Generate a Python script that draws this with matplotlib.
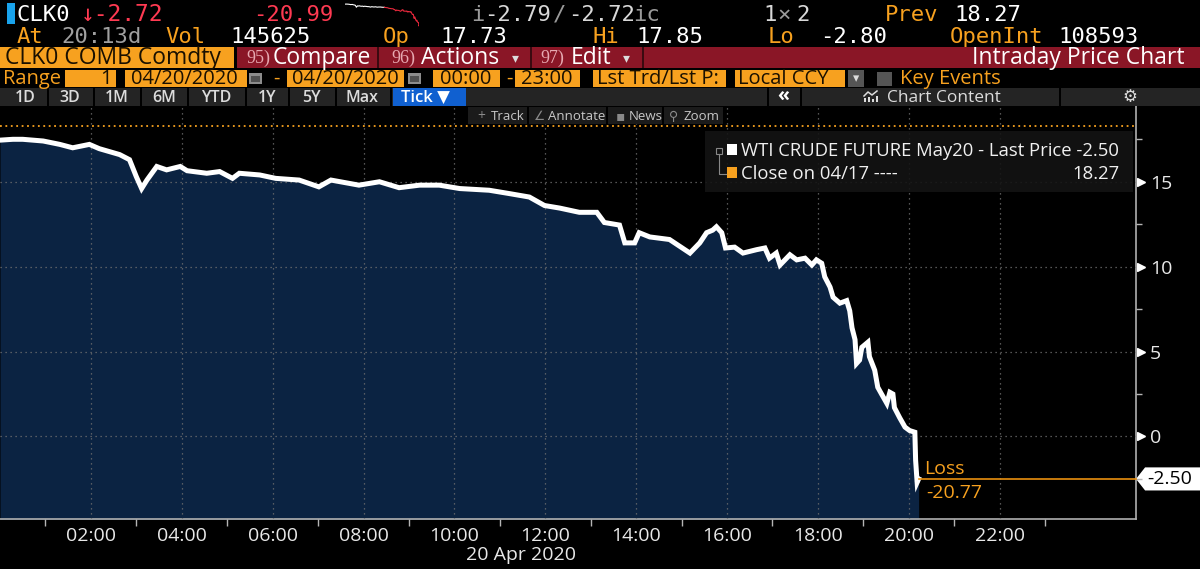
import matplotlib
matplotlib.use('Agg')
import matplotlib.pyplot as plt
from matplotlib.patches import Rectangle, Polygon
from matplotlib.lines import Line2D
import numpy as np

# tick data, 20 Apr 2020 (WTI May20)
times = ["00:00", "00:17", "00:30", "00:57", "01:19", "01:36", "01:58", "02:11", "02:38", "02:51",
         "03:00", "03:07", "03:14", "03:27", "03:40", "03:58", "04:07", "04:33", "04:50", "05:07",
         "05:16", "05:43", "06:04", "06:35", "07:01", "07:17", "07:54", "08:21", "08:47", "09:14",
         "09:40", "10:07", "10:46", "11:13", "11:39", "11:59", "12:19", "12:45", "13:08", "13:18",
         "13:38", "13:45", "13:58", "14:04", "14:18", "14:44", "15:11", "15:24", "15:33", "15:41",
         "15:46", "15:53", "15:58", "16:10", "16:21", "16:39", "16:50", "16:56", "17:05", "17:10",
         "17:23", "17:32", "17:43", "17:52", "17:58", "18:05", "18:09", "18:16", "18:20", "18:29",
         "18:38", "18:42", "18:45", "18:49", "18:51", "18:55", "18:58", "19:06", "19:08", "19:15",
         "19:19", "19:24", "19:31", "19:35", "19:39", "19:41", "19:48", "19:55", "20:01", "20:08",
         "20:09", "20:11", "20:13"]
price = [17.45, 17.5, 17.5, 17.4, 17.2, 17.0, 17.2, 16.95, 16.6, 16.3,
         15.3, 14.6, 15.1, 15.9, 15.7, 15.9, 15.65, 15.5, 15.6, 15.2,
         15.5, 15.4, 15.2, 15.1, 14.7, 15.1, 14.8, 15.0, 14.65, 14.8,
         14.8, 14.6, 14.5, 14.3, 14.1, 13.6, 13.45, 13.2, 13.2, 12.6,
         12.45, 11.4, 11.4, 12.0, 11.75, 11.6, 10.8, 11.4, 12.0, 12.15,
         12.35, 12.0, 11.1, 11.15, 10.8, 11.0, 11.1, 10.5, 10.8, 10.1,
         10.7, 10.4, 10.5, 10.1, 10.4, 10.2, 9.4, 8.8, 8.2, 7.85,
         8.0, 7.4, 6.4, 5.7, 4.3, 4.5, 5.25, 5.55, 4.7, 3.9,
         2.9, 2.5, 1.95, 2.6, 2.5, 1.7, 1.1, 0.55, 0.35, 0.25,
         -1.4, -2.7, -2.5]
prev_close = 18.27

x_hours = [2, 4, 6, 8, 10, 12, 14, 16, 18, 20, 22]
x_labels = ["%02d:00" % h for h in x_hours]
y_ticks = [0, 5, 10, 15]

hours = np.array([int(t[:2]) + int(t[3:]) / 60 for t in times])
price = np.array(price)
last = price[-1]

W, H = 1200, 569
SANS = ['Open Sans', 'DejaVu Sans']
MONO = ['DejaVu Sans Mono', 'DejaVu Sans']
ORANGE = '#f7a11f'
RED = '#ff3a52'
NAVY = '#0b2342'
plt.rcParams['font.family'] = SANS

fig = plt.figure(figsize=(12, 5.69), dpi=100, facecolor='black')


def rect(x0, y0, x1, y1, color, **kw):
    fig.add_artist(Rectangle((x0 / W, 1 - y1 / H), (x1 - x0) / W, (y1 - y0) / H,
                             transform=fig.transFigure, facecolor=color, edgecolor='none', **kw))


def label(x, y, s, color='white', size=14, family=SANS, ha='left', **kw):
    fig.text(x / W, 1 - y / H, s, color=color, fontsize=size, family=family,
             ha=ha, va='baseline', **kw)


def pline(xs, ys, color, lw=1, **kw):
    fig.add_artist(Line2D([x / W for x in xs], [1 - y / H for y in ys],
                          transform=fig.transFigure, color=color, lw=lw, **kw))


# ---- main chart
ax = fig.add_axes([0, 1 - 519 / H, 1136 / W, (519 - 105) / H])
ax.set_facecolor('black')
ax.set_xlim(0, 25)
ax.set_ylim(-4.86, 19.52)
ax.fill_between(hours, price, -10, color=NAVY, lw=0, zorder=1)
ax.plot(hours, price, color='white', lw=3.6, solid_joinstyle='miter', zorder=3)
ax.axhline(prev_close, color=ORANGE, ls=(0, (1, 2)), lw=1.3, zorder=2)
ax.plot([hours[-1], 25], [last, last], color='#e8900f', lw=1.2, zorder=4, clip_on=False)

ax.set_xticks(x_hours)
ax.set_xticklabels(x_labels)
ax.set_xticks(np.arange(1, 25, 2), minor=True)
ax.yaxis.tick_right()
ax.set_yticks(y_ticks)
ax.set_yticks([-2.5, 2.5, 7.5, 12.5, 17.5], minor=True)
ax.tick_params(axis='x', which='major', length=0, pad=6, labelsize=14, labelcolor='#e8e8e8')
ax.tick_params(axis='x', which='minor', length=5, color='#b5b5b5', width=1)
ax.tick_params(axis='y', which='major', length=0, pad=10, labelsize=14, labelcolor='#e8e8e8')
ax.tick_params(axis='y', which='minor', length=4, color='#b5b5b5', width=1)
ax.grid(True, which='major', color='#707070', ls=(0, (1, 3)), lw=0.9)
ax.set_axisbelow(False)
for s in ['top', 'left']:
    ax.spines[s].set_visible(False)
for s in ['right', 'bottom']:
    ax.spines[s].set_color('#b0b0b0')
    ax.spines[s].set_linewidth(1.2)
ax.plot(np.full(len(y_ticks), 1.004), y_ticks, marker='>', ls='none', ms=6, color='white',
        transform=ax.get_yaxis_transform(), clip_on=False)

# last price tag + loss
trans = ax.get_yaxis_transform()
hh = 0.68
x1 = 1200 / 1136
ax.add_patch(Polygon([(1.0, last), (1.008, last + hh), (x1, last + hh), (x1, last - hh), (1.008, last - hh)],
                     closed=True, transform=trans, clip_on=False, facecolor='white', edgecolor='none'))
ax.text(1.0097, last, "%.2f" % last, transform=trans, color='black', fontsize=14, va='center')
ax.text(hours[-1] + 0.12, last + 0.3, "Loss", color=ORANGE, fontsize=14, va='baseline')
ax.text(hours[-1] + 0.16, last - 1.12, "%.2f" % (last - prev_close), color=ORANGE, fontsize=14, va='baseline')
fig.text(521 / W, 1 - 560 / H, "20 Apr 2020", color='#e8e8e8', fontsize=14, ha='center', va='baseline')

# legend box
rect(705, 131, 1133, 192, '#141414', alpha=0.9, zorder=5)
fig.add_artist(Rectangle((716 / W, 1 - 154 / H), 6 / W, 6 / H, transform=fig.transFigure,
                         facecolor='none', edgecolor='#888888', lw=0.8, zorder=6))
pline([719, 719, 727], [154, 174, 174], '#888888', 0.8, zorder=6)
rect(727, 144, 737, 155, 'white', zorder=6)
rect(727, 167, 737, 178, ORANGE, zorder=6)
label(741, 156, "WTI CRUDE FUTURE May20 - Last Price %.2f" % last, '#f0f0f0', 13.3, zorder=6)
label(741, 179, "Close on 04/17 ----", '#f0f0f0', 13.3, zorder=6)
label(1120, 179, "%.2f" % prev_close, '#f0f0f0', 13.3, ha='right', zorder=6)

# ---- header row 1
rect(7, 3, 15, 24, '#19a3ec')
label(17, 21, "CLK0", 'white', 16, MONO)
label(81, 21, "↓-2.72", RED, 16.5, MONO)
label(253, 21, "-20.99", RED, 16, MONO)
label(471, 21, "i", '#9a9a9a', 16, MONO)
label(484, 21, "-2.79", '#d8d8d8', 16, MONO)
label(553, 21, "/", '#9a9a9a', 16, MONO)
label(568, 21, "-2.72", '#d8d8d8', 16, MONO)
label(633, 21, "ic", '#9a9a9a', 16, MONO)
label(763, 21, "1", '#d8d8d8', 16, MONO)
label(777, 21, "×", '#9a9a9a', 16, MONO)
label(796, 21, "2", '#d8d8d8', 16, MONO)
label(885, 21, "Prev", ORANGE, 16, MONO)
label(954, 21, "%.2f" % prev_close, 'white', 16, MONO)

# sparkline in the header, same series
sp = fig.add_axes([345 / W, 1 - 27 / H, 74 / W, 24 / H])
sp.set_axis_off()
sp.set_xlim(hours[0], hours[-1])
k = int(np.searchsorted(hours, 10.2))
sp.plot(hours[:k + 1], price[:k + 1], color='white', lw=0.8)
sp.plot(hours[k:], price[k:], color='#e8283c', lw=0.8)

# ---- header row 2
label(17, 43, "At", ORANGE, 16, MONO)
label(61, 43, "20:13d", '#a0a0a0', 16, MONO)
label(165, 43, "Vol", ORANGE, 16, MONO)
label(230, 43, "145625", 'white', 16, MONO)
label(383, 43, "Op", ORANGE, 16, MONO)
label(440, 43, "17.73", 'white', 16, MONO)
label(592, 43, "Hi", ORANGE, 16, MONO)
label(636, 43, "17.85", 'white', 16, MONO)
label(768, 43, "Lo", ORANGE, 16, MONO)
label(820, 43, "-2.80", 'white', 16, MONO)
label(950, 43, "OpenInt", ORANGE, 16, MONO)
label(1058, 43, "108593", 'white', 16, MONO)

# ---- header row 3
rect(0, 47, 234, 68, ORANGE)
rect(237, 47, 1200, 68, '#8a1626')
for xs in [377, 530, 642]:
    rect(xs, 47, xs + 2, 68, '#3a0a10')
label(5, 64, "CLK0 COMB Comdty", '#1a1000', 16.5)
label(246, 63, "95)", '#e7a9b1', 13, ['Liberation Serif'])
label(273, 64, "Compare", 'white', 16.5)
label(391, 63, "96)", '#e7a9b1', 13, ['Liberation Serif'])
label(421, 64, "Actions", 'white', 16.5)
label(512, 62, "▾", '#dddddd', 10)
label(540, 63, "97)", '#e7a9b1', 13, ['Liberation Serif'])
label(571, 64, "Edit", 'white', 16.5)
label(623, 62, "▾", '#dddddd', 10)
label(1184, 64, "Intraday Price Chart", 'white', 16.5, ha='right')

# ---- header row 4
label(3, 84, "Range", ORANGE, 14.5)
for a, b in [(65, 116), (125, 247), (287, 404), (433, 500), (515, 580), (593, 726), (735, 845)]:
    rect(a, 70, b, 87, ORANGE)
label(112, 84, "1", '#1a1000', 14.5, ha='right')
label(131, 84, "04/20/2020", '#1a1000', 14.5)
label(292, 84, "04/20/2020", '#1a1000', 14.5)
label(466, 84, "00:00", '#1a1000', 14.5, ha='center')
label(547, 84, "23:00", '#1a1000', 14.5, ha='center')
label(597, 84, "Lst Trd/Lst P:", '#1a1000', 14.5)
label(738, 84, "Local CCY", '#1a1000', 14.5)
for a in [249, 408]:
    rect(a, 73, a + 13, 84, '#8c8c8c')
    rect(a + 2, 76, a + 11, 82, '#505050')
label(276, 84, "-", ORANGE, 14.5, ha='center')
label(509, 84, "-", ORANGE, 14.5, ha='center')
rect(848, 70, 864, 87, '#555555')
label(856, 82, "▾", '#dddddd', 9, ha='center')
rect(877, 72, 892, 86, '#555555')
label(900, 84, "Key Events", ORANGE, 14.5)

# ---- header row 5
rect(0, 88, 1200, 106, '#242424')
for xs in [47, 93, 140, 187, 245, 288, 335, 390, 767, 800, 1059]:
    rect(xs, 88, xs + 2, 106, 'black')
for xc, s in [(25, "1D"), (70, "3D"), (117, "1M"), (164, "6M"), (216, "YTD"), (267, "1Y"),
              (311, "5Y"), (362, "Max")]:
    label(xc, 102, s, '#dcdcdc', 11.5, ha='center', weight='semibold')
rect(393, 88, 466, 106, '#1060d0')
label(401, 102, "Tick ▼", 'white', 12, weight='semibold')
label(783, 102, "«", 'white', 14, ha='center', weight='bold')
# small chart icon (no font has it)
pline([864, 868, 872, 877], [96, 92, 95, 91], '#dcdcdc', 1.1)
for bx, by in [(864, 98), (868, 97), (872, 99), (876, 96)]:
    rect(bx, by, bx + 2, 102, '#dcdcdc')
label(887, 102, "Chart Content", '#dcdcdc', 12.5)
label(1130, 102, "⚙", '#dcdcdc', 12, ha='center', family=['DejaVu Sans'])

# toolbar inside the chart
rect(468, 107, 723, 124, '#1b1b1b', zorder=5)
for xs in [527, 606, 662]:
    rect(xs, 107, xs + 2, 124, 'black', zorder=6)
label(481, 120, "+", '#8a8a8a', 10, ha='center', zorder=6)
label(491, 120, "Track", '#c8c8c8', 9.5, zorder=6)
label(540, 120, "∠", '#8a8a8a', 9, ha='center', zorder=6, family=['DejaVu Sans'])
label(548, 120, "Annotate", '#c8c8c8', 9.5, zorder=6)
label(620, 120, "▪", '#8a8a8a', 10, ha='center', zorder=6, family=['DejaVu Sans'])
label(629, 120, "News", '#c8c8c8', 9.5, zorder=6)
label(674, 120, "⚲", '#8a8a8a', 9, ha='center', zorder=6, family=['DejaVu Sans'])
label(684, 120, "Zoom", '#c8c8c8', 9.5, zorder=6)

fig.savefig('out.png', dpi=100, facecolor='black')
